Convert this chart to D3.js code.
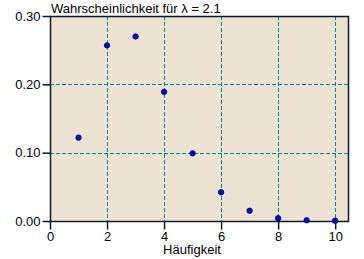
<!DOCTYPE html>
<html lang="de">
<head>
<meta charset="UTF-8">
<script src="https://d3js.org/d3.v7.min.js"></script>
<style>
  body { margin: 0; background: #fff; }
  text { font-family: "Liberation Sans", Arial, sans-serif; fill: #000; }
</style>
</head>
<body>
<svg id="chart" width="364" height="259"></svg>
<script>
// Poisson probabilities shown in the chart
const haeufigkeit = [1, 2, 3, 4, 5, 6, 7, 8, 9, 10];
const wahrscheinlichkeit = [0.122, 0.257, 0.270, 0.189, 0.099, 0.042, 0.015, 0.004, 0.001, 0.0003];
const xTicks = [0, 2, 4, 6, 8, 10];
const yTicks = [0, 0.1, 0.2, 0.3];

const svg = d3.select("#chart");
const plotLeft = 50, plotRight = 348, plotTop = 16, plotBottom = 221;

const x = d3.scaleLinear().domain([0, 10.45]).range([plotLeft, plotRight]);
const y = d3.scaleLinear().domain([0, 0.30]).range([plotBottom, plotTop]);

// plot background
svg.append("rect")
    .attr("x", plotLeft).attr("y", plotTop)
    .attr("width", plotRight - plotLeft).attr("height", plotBottom - plotTop)
    .attr("fill", "#ebe2d2");

// dashed grid
const grid = svg.append("g").attr("stroke", "#008b8b").attr("stroke-width", 1)
    .attr("stroke-dasharray", "4,2");
grid.selectAll("line.vgrid").data(xTicks.filter(d => d > 0)).join("line")
    .attr("class", "vgrid")
    .attr("x1", d => Math.round(x(d)) + 0.5).attr("x2", d => Math.round(x(d)) + 0.5)
    .attr("y1", plotTop).attr("y2", plotBottom);
grid.selectAll("line.hgrid").data(yTicks.filter(d => d > 0 && d < 0.3)).join("line")
    .attr("class", "hgrid")
    .attr("x1", plotLeft).attr("x2", plotRight)
    .attr("y1", d => Math.round(y(d)) + 0.5).attr("y2", d => Math.round(y(d)) + 0.5);

// border
svg.append("rect")
    .attr("x", plotLeft + 0.5).attr("y", plotTop + 0.5)
    .attr("width", plotRight - plotLeft).attr("height", plotBottom - plotTop)
    .attr("fill", "none").attr("stroke", "#0a1a2a").attr("stroke-width", 1.5);

// axes
const xAxis = svg.append("g").attr("transform", `translate(0,${plotBottom + 0.5})`)
    .call(d3.axisBottom(x).tickValues(xTicks).tickSize(8).tickPadding(2).tickFormat(d3.format("d")));
const yAxis = svg.append("g").attr("transform", `translate(${plotLeft + 0.5},0)`)
    .call(d3.axisLeft(y).tickValues(yTicks).tickSize(8).tickPadding(2).tickFormat(d3.format(".2f")));
[xAxis, yAxis].forEach(g => {
    g.select(".domain").remove();
    g.selectAll(".tick line").attr("stroke", "#0a1a2a").attr("stroke-width", 1.5);
    g.selectAll("text").attr("font-size", 13).attr("font-family", "Liberation Sans, Arial, sans-serif").attr("fill", "#000");
});

// points
svg.selectAll("circle.pt").data(haeufigkeit).join("circle")
    .attr("class", "pt")
    .attr("cx", (d) => x(d)).attr("cy", (d, i) => y(wahrscheinlichkeit[i]))
    .attr("r", 2.7)
    .attr("fill", "#0000ee").attr("stroke", "#000022").attr("stroke-width", 0.8);

// labels
svg.append("text").attr("x", 51).attr("y", 13)
    .attr("font-size", 13).text("Wahrscheinlichkeit für λ = 2.1");
svg.append("text").attr("x", (plotLeft + plotRight) / 2 - 7).attr("y", 254)
    .attr("text-anchor", "middle").attr("font-size", 13).text("Häufigkeit");
</script>
</body>
</html>
